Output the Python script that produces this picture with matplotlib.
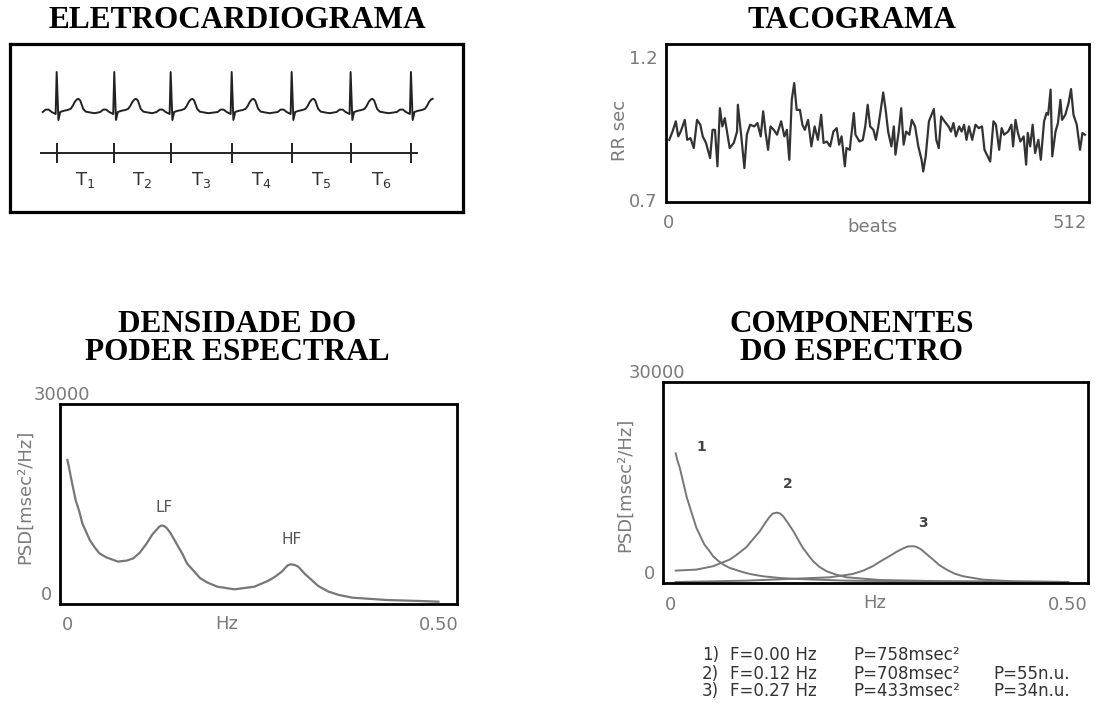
import numpy as np
import matplotlib
matplotlib.use('Agg')
import matplotlib.pyplot as plt

# ECG: R peak times (ms) and one beat template (offset from R in ms, amplitude mV)
ecg_r_peaks = [677, 1512, 2330, 3215, 4085, 4940, 5815]
ecg_beat_t = [-203, -160, -116, -73, -36, -15, 0, 25, 51, 102, 160, 203, 232, 262, 290, 315, 341, 362, 384, 421, 479, 551]
ecg_beat_amp = [0, 0.06, 0.06, 0, -0.03, -0.05, 1.0, -0.2, 0, 0.03, 0.05, 0.08, 0.15, 0.25, 0.31, 0.33, 0.29, 0.19, 0.08, 0.01, -0.01, -0.03]
ecg_end = 6134
ecg_axis_span = (450, 5900)
ecg_labels = ['$\\mathrm{T}_1$', '$\\mathrm{T}_2$', '$\\mathrm{T}_3$', '$\\mathrm{T}_4$', '$\\mathrm{T}_5$', '$\\mathrm{T}_6$']

# tachogram: RR interval (s) per beat
tach_beats = [1, 5, 9, 12, 15, 20, 23, 27, 31, 35, 39, 42, 46, 51, 54, 57, 60, 63, 66, 69,
              72, 75, 80, 84, 85, 89, 93, 96, 100, 105, 109, 113, 116, 119, 122, 125, 129, 133, 138, 142,
              145, 148, 151, 154, 157, 161, 164, 167, 171, 175, 179, 183, 187, 190, 194, 198, 202, 206, 209, 212,
              216, 218, 222, 227, 229, 234, 238, 241, 244, 247, 251, 254, 257, 260, 263, 266, 269, 273, 276, 278,
              282, 285, 288, 291, 295, 298, 302, 306, 310, 312, 315, 319, 325, 328, 331, 334, 338, 343, 346, 349,
              352, 356, 359, 362, 365, 368, 372, 376, 380, 384, 387, 391, 394, 398, 401, 405, 408, 411, 416, 420,
              422, 425, 428, 431, 435, 438, 440, 443, 446, 449, 453, 456, 460, 463, 465, 468, 470, 474, 477, 480,
              482, 486, 490, 493, 496, 500, 504, 507, 510]
tach_rr = [0.910, 0.939, 0.975, 0.922, 0.939, 0.980, 0.910, 0.916, 0.881, 0.980, 0.963, 0.922, 0.899, 0.846, 0.945, 0.945, 0.817, 1.021, 0.957, 0.986,
           0.934, 0.881, 0.899, 0.939, 1.033, 0.928, 0.811, 0.928, 0.963, 0.957, 0.969, 0.922, 1.010, 0.934, 0.875, 0.957, 0.945, 0.928, 0.975, 0.922,
           0.945, 0.840, 1.050, 1.109, 1.015, 1.015, 0.963, 0.945, 0.980, 0.887, 0.957, 0.910, 0.998, 0.899, 0.904, 0.887, 0.939, 0.951, 0.893, 0.922,
           0.817, 0.881, 0.875, 1.004, 0.928, 0.904, 0.910, 0.957, 1.033, 0.957, 0.945, 0.910, 0.957, 1.015, 1.076, 1.015, 0.939, 0.887, 0.957, 0.858,
           0.939, 1.021, 0.893, 0.939, 0.928, 0.980, 0.957, 0.887, 0.840, 0.799, 0.852, 0.975, 1.018, 0.910, 0.881, 0.992, 0.975, 0.957, 0.939, 0.969,
           0.922, 0.957, 0.939, 0.963, 0.910, 0.957, 0.910, 0.963, 0.951, 0.957, 0.875, 0.852, 0.834, 0.975, 0.963, 0.875, 0.951, 0.928, 0.939, 0.963,
           0.887, 0.980, 0.934, 0.904, 0.922, 0.823, 0.934, 0.887, 0.963, 0.864, 0.910, 0.840, 0.975, 1.004, 0.998, 1.086, 0.852, 0.939, 0.969, 1.050,
           0.980, 0.998, 1.039, 1.088, 0.998, 0.963, 0.875, 0.934, 0.928]

# power spectral density (msec^2/Hz)
psd_hz = [0.0, 0.0023, 0.0045, 0.0077, 0.011, 0.016, 0.020, 0.025, 0.030, 0.036, 0.043, 0.052, 0.068, 0.080,
          0.089, 0.098, 0.107, 0.114, 0.120, 0.124, 0.127, 0.130, 0.134, 0.139, 0.148, 0.155, 0.161, 0.171,
          0.179, 0.189, 0.202, 0.225, 0.252, 0.271, 0.280, 0.289, 0.293, 0.297, 0.301, 0.306, 0.311, 0.320,
          0.329, 0.338, 0.352, 0.366, 0.384, 0.430, 0.475, 0.50]
psd_val = [21600, 20380, 19130, 17380, 15620, 13870, 12120, 10870, 9620, 8610, 7610, 7010, 6360, 6510,
           6860, 7760, 9110, 10370, 11120, 11620, 11770, 11720, 11370, 10620, 8860, 7510, 6110, 4860,
           3860, 3200, 2600, 2200, 2600, 3500, 4110, 4860, 5360, 5810, 5960, 5860, 5610, 4510,
           3610, 2700, 1850, 1350, 950, 600, 450, 350]

# spectral components
comp1_hz = [0.006, 0.008, 0.011, 0.017, 0.020, 0.024, 0.028, 0.032, 0.037, 0.042, 0.048, 0.053, 0.059,
            0.066, 0.074, 0.087, 0.099, 0.116, 0.137, 0.158, 0.221, 0.305, 0.50]
comp1_val = [19350, 18350, 17250, 14250, 12750, 11250, 9750, 8250, 7000, 5750, 4850, 4000, 3350,
             2750, 2250, 1750, 1350, 1000, 750, 600, 350, 250, 150]
comp2_hz = [0.006, 0.032, 0.053, 0.074, 0.082, 0.095, 0.103, 0.112, 0.118, 0.124, 0.128, 0.133, 0.137,
            0.141, 0.147, 0.154, 0.160, 0.166, 0.173, 0.179, 0.187, 0.196, 0.208, 0.221, 0.263, 0.347, 0.50]
comp2_val = [1850, 2000, 2500, 3500, 4150, 5350, 6500, 7750, 8850, 9850, 10350, 10500, 10400,
             10000, 9000, 7750, 6500, 5250, 4150, 3250, 2400, 1750, 1250, 850, 450, 250, 150]
comp3_hz = [0.006, 0.095, 0.158, 0.200, 0.229, 0.242, 0.254, 0.264, 0.275, 0.284, 0.292, 0.298, 0.305,
            0.309, 0.315, 0.321, 0.330, 0.338, 0.347, 0.357, 0.368, 0.393, 0.431, 0.50]
comp3_val = [150, 350, 650, 850, 1350, 1850, 2500, 3250, 4000, 4650, 5150, 5450, 5500,
             5400, 5000, 4400, 3500, 2650, 2000, 1400, 1000, 500, 250, 150]
comp_rows = [("1)", "F=0.00 Hz", "P=758msec²", ""),
             ("2)", "F=0.12 Hz", "P=708msec²", "P=55n.u."),
             ("3)", "F=0.27 Hz", "P=433msec²", "P=34n.u.")]

W, H = 1095, 709
GRAY = '#7a7a7a'


def box(x0, y0, x1, y1):
    # pixel box -> figure fraction rect
    return [x0 / W, 1 - y1 / H, (x1 - x0) / W, (y1 - y0) / H]


def frame(ax, lw=2.0):
    for s in ax.spines.values():
        s.set_linewidth(lw)
        s.set_color('black')


fig = plt.figure(figsize=(W / 100, H / 100), dpi=100)
title_font = dict(family='Liberation Serif', weight='bold', fontsize=22.5, ha='center', va='center')

# ---------- ECG ----------
ax = fig.add_axes(box(10, 44, 463, 212))
frame(ax, 2.3)
t_all, a_all = [], []
for r in ecg_r_peaks:
    for dt, amp in zip(ecg_beat_t, ecg_beat_amp):
        if r + dt <= ecg_end:
            t_all.append(r + dt)
            a_all.append(amp)
ax.plot(t_all, a_all, color='#222222', lw=1.4)
ax.plot(ecg_axis_span, [-1.025, -1.025], color='#222222', lw=1.4)
ax.vlines(ecg_r_peaks, -1.275, -0.775, color='#222222', lw=1.4)
mids = [(a + b) / 2 for a, b in zip(ecg_r_peaks[:-1], ecg_r_peaks[1:])]
for m, lab in zip(mids, ecg_labels):
    ax.text(m, -1.7, lab, ha='center', va='center', fontsize=13, color='#333333')
ax.set_xlim(0, 6570)
ax.set_ylim(-2.5, 1.7)
ax.set_xticks([])
ax.set_yticks([])
fig.text(237 / W, 1 - 20 / H, 'ELETROCARDIOGRAMA', **title_font)

# ---------- tachogram ----------
ax = fig.add_axes(box(666, 44, 1089, 202))
frame(ax)
ax.plot(tach_beats, tach_rr, color='#333333', lw=1.6)
ax.set_xlim(-3, 515)
ax.set_ylim(0.692, 1.246)
ax.set_yticks([0.7, 1.2], labels=['0.7', '1.2'])
ax.set_xticks([0, 512], labels=['0', '512'])
ax.tick_params(length=0, labelsize=13, labelcolor=GRAY)
ax.tick_params(axis='x', pad=9)
ax.tick_params(axis='y', pad=6)
ax.get_xticklabels()[1].set_ha('right')
ax.set_xlabel('beats', fontsize=13, color=GRAY, va='center')
ax.xaxis.set_label_coords(0.487, -0.16)
ax.set_ylabel('RR sec', fontsize=13, color=GRAY, va='center')
ax.yaxis.set_label_coords(-0.109, 0.456)
fig.text(852 / W, 1 - 20 / H, 'TACOGRAMA', **title_font)

# ---------- PSD ----------
ax = fig.add_axes(box(60, 404, 457, 604))
frame(ax)
ax.plot(psd_hz, psd_val, color='#777777', lw=1.6)
ax.text(0.130, 14520, 'LF', ha='center', va='center', fontsize=11, color='#555555')
ax.text(0.302, 9720, 'HF', ha='center', va='center', fontsize=11, color='#555555')
ax.set_xlim(-0.01, 0.525)
ax.set_ylim(0, 30000)
ax.set_xticks([0, 0.5], labels=['0', '0.50'])
ax.set_yticks([0], labels=['0'])
ax.tick_params(length=0, labelsize=13, labelcolor=GRAY)
ax.tick_params(axis='x', pad=9)
ax.tick_params(axis='y', pad=6)
plt.setp(ax.get_yticklabels(), va='bottom')
ax.text(0.005, 30000, '30000', transform=ax.get_yaxis_transform(), ha='center', va='bottom',
        fontsize=13, color=GRAY)
ax.set_xlabel('Hz', fontsize=13, color=GRAY, va='center')
ax.xaxis.set_label_coords(0.42, -0.10)
ax.set_ylabel('PSD[msec²/Hz]', fontsize=13, color=GRAY, va='center')
ax.yaxis.set_label_coords(-0.088, 0.535)
fig.text(237 / W, 1 - 325 / H, 'DENSIDADE DO', **title_font)
fig.text(237 / W, 1 - 353 / H, 'PODER ESPECTRAL', **title_font)

# ---------- components ----------
ax = fig.add_axes(box(663, 382, 1088, 583))
frame(ax)
for hz, val in [(comp1_hz, comp1_val), (comp2_hz, comp2_val), (comp3_hz, comp3_val)]:
    ax.plot(hz, val, color='#777777', lw=1.4)
ax.text(0.038, 20250, '1', ha='center', va='center', fontsize=10, color='#444444', weight='bold')
ax.text(0.147, 14850, '2', ha='center', va='center', fontsize=10, color='#444444', weight='bold')
ax.text(0.317, 9000, '3', ha='center', va='center', fontsize=10, color='#444444', weight='bold')
ax.set_xlim(-0.01, 0.525)
ax.set_ylim(0, 30000)
ax.set_xticks([0, 0.5], labels=['0', '0.50'])
ax.set_yticks([0], labels=['0'])
ax.tick_params(length=0, labelsize=13, labelcolor=GRAY)
ax.tick_params(axis='x', pad=9)
ax.tick_params(axis='y', pad=6)
plt.setp(ax.get_yticklabels(), va='bottom')
ax.text(-0.014, 30000, '30000', transform=ax.get_yaxis_transform(), ha='center', va='bottom',
        fontsize=13, color=GRAY)
ax.set_xlabel('Hz', fontsize=13, color=GRAY, va='center')
ax.xaxis.set_label_coords(0.499, -0.10)
ax.set_ylabel('PSD[msec²/Hz]', fontsize=13, color=GRAY, va='center')
ax.yaxis.set_label_coords(-0.089, 0.488)
fig.text(852 / W, 1 - 325 / H, 'COMPONENTES', **title_font)
fig.text(852 / W, 1 - 353 / H, 'DO ESPECTRO', **title_font)

# table of components under the chart
row_y = [655, 674, 691]
col_x = [702, 730, 853, 993]
for y, row in zip(row_y, comp_rows):
    for x, txt in zip(col_x, row):
        fig.text(x / W, 1 - y / H, txt, ha='left', va='center', fontsize=12, color='#333333')

fig.savefig('out.png', dpi=100)
